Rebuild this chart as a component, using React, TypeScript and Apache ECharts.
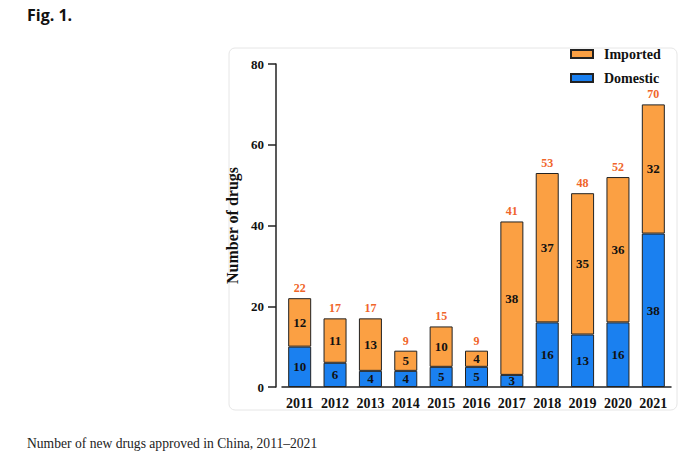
import React, { useEffect, useRef } from "react";
import * as echarts from "echarts";

const years = ["2011", "2012", "2013", "2014", "2015", "2016", "2017", "2018", "2019", "2020", "2021"];
const domestic = [10, 6, 4, 4, 5, 5, 3, 16, 13, 16, 38];
const imported = [12, 11, 13, 5, 10, 4, 38, 37, 35, 36, 32];
const totals = [22, 17, 17, 9, 15, 9, 41, 53, 48, 52, 70];
const yTicks = [0, 20, 40, 60, 80];

const ORANGE = "#FBA043";
const BLUE = "#1A80F0";
const SERIF = "'Liberation Serif', 'Times New Roman', serif";

export default function App() {
  const ref = useRef<HTMLDivElement>(null);
  useEffect(() => {
    if (!ref.current) return;
    const chart = echarts.init(ref.current, null, { renderer: "svg" });
    const inLabel = {
      show: true,
      position: "inside" as const,
      color: "#111",
      fontFamily: SERIF,
      fontWeight: "bold" as const,
      fontSize: 13,
    };
    chart.setOption({
      animation: false,
      backgroundColor: "#fff",
      graphic: [
        {
          type: "rect",
          shape: { x: 229, y: 48, width: 448, height: 362, r: 6 },
          style: { fill: "none", stroke: "#e6e6e6", lineWidth: 1 },
          z: -1,
        },
        {
          type: "text",
          left: 27,
          top: 7,
          style: { text: "Fig. 1.", font: "bold 16px 'Open Sans', 'Noto Sans', sans-serif", fill: "#111" },
        },
        {
          type: "text",
          left: 27,
          top: 436,
          style: { text: "Number of new drugs approved in China, 2011\u20132021", font: "13.6px 'Liberation Serif', serif", fill: "#222" },
        },
      ],
      legend: {
        orient: "vertical",
        left: 565,
        top: 42,
        itemWidth: 22,
        itemHeight: 8,
        itemGap: 10,
        data: ["Imported", "Domestic"],
        icon: "rect",
        textStyle: { fontFamily: SERIF, fontWeight: "bold", fontSize: 14, color: "#111", padding: [0, 0, 0, 6] },
      },
      grid: { left: 282, right: 17, top: 64, bottom: 74 },
      xAxis: {
        type: "category",
        data: years,
        axisLine: { lineStyle: { color: "#222", width: 1.5 } },
        axisTick: { alignWithLabel: true, length: 6, lineStyle: { color: "#222", width: 1.5 } },
        axisLabel: { interval: 0, color: "#111", fontFamily: SERIF, fontWeight: "bold", fontSize: 14, margin: 9 },
      },
      yAxis: {
        type: "value",
        min: 0,
        max: 80,
        interval: 20,
        offset: 6,
        name: "Number of drugs",
        nameLocation: "middle",
        nameGap: 32,
        nameTextStyle: { fontFamily: SERIF, fontWeight: "bold", fontSize: 16, color: "#111" },
        axisLine: { show: true, lineStyle: { color: "#222", width: 1.5 } },
        axisTick: { show: true, length: 8, lineStyle: { color: "#222", width: 1.5 } },
        splitLine: { show: false },
        axisLabel: {
          color: "#111",
          fontFamily: SERIF,
          fontWeight: "bold",
          fontSize: 13,
          margin: 12,
          formatter: (v: number) => (yTicks.includes(v) ? String(v) : ""),
        },
      },
      series: [
        {
          name: "Domestic",
          type: "bar",
          stack: "s",
          barWidth: 23,
          data: domestic,
          itemStyle: { color: BLUE, borderColor: "#222", borderWidth: 1 },
          label: inLabel,
        },
        {
          name: "Imported",
          type: "bar",
          stack: "s",
          barWidth: 23,
          data: imported,
          itemStyle: { color: ORANGE, borderColor: "#222", borderWidth: 1 },
          label: inLabel,
        },
        {
          name: "Total",
          type: "bar",
          stack: "s",
          barWidth: 23,
          data: totals.map(() => 0),
          itemStyle: { color: "transparent" },
          label: {
            show: true,
            position: "top",
            distance: 4,
            color: "#F0652A",
            fontFamily: SERIF,
            fontWeight: "bold",
            fontSize: 12,
            formatter: (p: any) => String(totals[p.dataIndex]),
          },
        },
      ],
    });
    return () => chart.dispose();
  }, []);
  return <div ref={ref} style={{ position: "fixed", left: 0, top: 0, width: 688, height: 461 }} />;
}
